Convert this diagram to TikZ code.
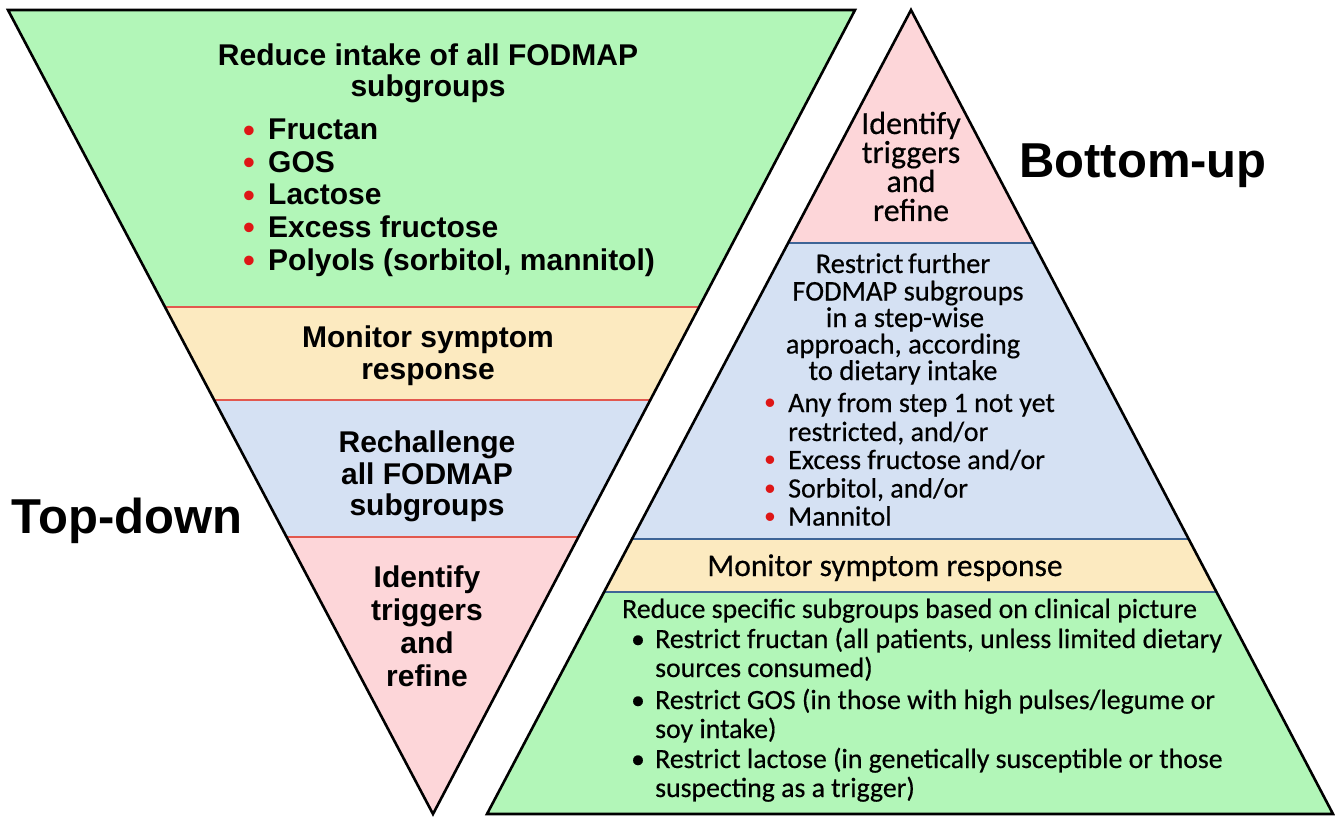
\documentclass[tikz,border=0pt]{standalone}
\usepackage{fontspec}
\setmainfont{Liberation Sans}
\newfontfamily\calfont[FakeBold=0.45]{Carlito}
\definecolor{bandgreen}{RGB}{178,246,184}
\definecolor{bandyellow}{RGB}{252,234,192}
\definecolor{bandblue}{RGB}{213,225,243}
\definecolor{bandpink}{RGB}{253,214,217}
\definecolor{dotred}{RGB}{222,22,22}
\definecolor{sepred}{RGB}{226,88,78}
\definecolor{sepblue}{RGB}{62,100,150}
\begin{document}
\begin{tikzpicture}[x=1pt,y=-1pt,
  outline/.style={draw=black,line width=2.6pt,line join=miter},
  sepL/.style={draw=sepred,line width=1.6pt},
  sepR/.style={draw=sepblue,line width=2pt},
  ltxt/.style={font=\bfseries\fontsize{30}{33}\selectfont,anchor=base,inner sep=0pt},
  litem/.style={font=\bfseries\fontsize{30}{33}\selectfont,anchor=base west,inner sep=0pt},
  ldot/.style={font=\fontsize{35}{35}\selectfont,text=dotred,anchor=base,inner sep=0pt},
  bigtxt/.style={font=\bfseries\fontsize{49}{49}\selectfont,anchor=base,inner sep=0pt},
  rtxt/.style={font=\calfont\fontsize{28.5}{28.5}\selectfont,anchor=base,inner sep=0pt},
  ptxt/.style={font=\calfont\fontsize{32}{32}\selectfont,anchor=base,inner sep=0pt},
  ritem/.style={font=\calfont\fontsize{28}{28}\selectfont,anchor=base west,inner sep=0pt},
  rdot/.style={font=\fontsize{31}{31}\selectfont,text=dotred,anchor=base,inner sep=0pt},
  gtxt/.style={font=\calfont\fontsize{27.8}{27.8}\selectfont,anchor=base west,inner sep=0pt},
  gdot/.style={font=\calfont\fontsize{27.5}{27.5}\selectfont,anchor=base,inner sep=0pt}]
\useasboundingbox (0,0) rectangle (1335,818);
% ---------- left (inverted) triangle ----------
\coordinate (LA) at (8,10);
\coordinate (LB) at (855,10);
\coordinate (LC) at (433,814);
\begin{scope}
  \clip (LA) -- (LB) -- (LC) -- cycle;
  \fill[bandgreen]  (0,0)   rectangle (900,307);
  \fill[bandyellow] (0,307) rectangle (900,400);
  \fill[bandblue]   (0,400) rectangle (900,537);
  \fill[bandpink]   (0,537) rectangle (900,818);
  \draw[sepL] (0,307) -- (900,307);
  \draw[sepL] (0,400) -- (900,400);
  \draw[sepL] (0,537) -- (900,537);
\end{scope}
\draw[outline] (LA) -- (LB) -- (LC) -- cycle;
% ---------- right triangle ----------
\coordinate (RA) at (911,10);
\coordinate (RB) at (1333,814);
\coordinate (RC) at (487,814);
\begin{scope}
  \clip (RA) -- (RB) -- (RC) -- cycle;
  \fill[bandpink]   (450,0)   rectangle (1335,243);
  \fill[bandblue]   (450,243) rectangle (1335,539);
  \fill[bandyellow] (450,539) rectangle (1335,592);
  \fill[bandgreen]  (450,592) rectangle (1335,818);
  \draw[sepR] (450,243) -- (1335,243);
  \draw[sepR] (450,539) -- (1335,539);
  \draw[sepR] (450,592) -- (1335,592);
\end{scope}
\draw[outline] (RA) -- (RB) -- (RC) -- cycle;
% ---------- side labels ----------
\node[bigtxt] (topdown) at (127,533) {Top-down};
\node[bigtxt] (bottomup) at (1143,178) {Bottom-up};
% ---------- left texts ----------
\node[ltxt] (l1a) at (428,66) {Reduce intake of all FODMAP};
\node[ltxt] (l1b) at (428,97) {subgroups};
\node[ldot] (d1) at (249,142.5) {•};
\node[litem] (i1) at (268,140) {Fructan};
\node[ldot] (d2) at (249,175) {•};
\node[litem] (i2) at (268,172.5) {GOS};
\node[ldot] (d3) at (249,207.5) {•};
\node[litem] (i3) at (268,205) {Lactose};
\node[ldot] (d4) at (249,240) {•};
\node[litem] (i4) at (268,237.5) {Excess fructose};
\node[ldot] (d5) at (249,272.5) {•};
\node[litem] (i5) at (268,270) {Polyols (sorbitol, mannitol)};
\node[ltxt] (l2a) at (428,347) {Monitor symptom};
\node[ltxt] (l2b) at (428,379) {response};
\node[ltxt] (l3a) at (427,452) {Rechallenge};
\node[ltxt] (l3b) at (427,484) {all FODMAP};
\node[ltxt] (l3c) at (427,515) {subgroups};
\node[ltxt] (l4a) at (427,587) {Identify};
\node[ltxt] (l4b) at (427,620) {triggers};
\node[ltxt] (l4c) at (427,653) {and};
\node[ltxt] (l4d) at (427,686) {refine};
% ---------- right texts ----------
\node[ptxt] (r1a) at (911,134) {Identify};
\node[ptxt] (r1b) at (911,163) {triggers};
\node[ptxt] (r1c) at (911,192) {and};
\node[ptxt] (r1d) at (911,221) {refine};
\node[rtxt] (r2a) at (903,273) {Restrict\,further};
\node[rtxt] (r2b) at (908,300.5) {FODMAP subgroups};
\node[rtxt] (r2c) at (905,327) {in a step-wise};
\node[rtxt] (r2d) at (903,353.5) {approach, according};
\node[rtxt] (r2e) at (903,380) {to dietary intake};
\node[rdot] (rd1) at (770,413.5) {•};
\node[ritem] (ri1) at (788,412) {Any from step 1 not yet};
\node[ritem] (ri1b) at (788,441) {restricted, and/or};
\node[rdot] (rd2) at (770,470.5) {•};
\node[ritem] (ri2) at (788,469) {Excess fructose and/or};
\node[rdot] (rd3) at (770,499) {•};
\node[ritem] (ri3) at (788,497.5) {Sorbitol, and/or};
\node[rdot] (rd4) at (770,527) {•};
\node[ritem] (ri4) at (788,525.5) {Mannitol};
\node[font=\calfont\fontsize{31.5}{31.5}\selectfont,anchor=base,inner sep=0pt] (r3) at (885,576) {Monitor symptom response};
\node[gtxt] (g0) at (622,618) {Reduce specific subgroups based on clinical picture};
\node[gdot] (gd1) at (638,648) {•};
\node[gtxt] (g1a) at (655,648) {Restrict fructan (all patients, unless limited dietary};
\node[gtxt] (g1b) at (655,677) {sources consumed)};
\node[gdot] (gd2) at (638,709) {•};
\node[gtxt] (g2a) at (655,709) {Restrict GOS (in those with high pulses/legume or};
\node[gtxt] (g2b) at (655,738) {soy intake)};
\node[gdot] (gd3) at (638,768) {•};
\node[gtxt] (g3a) at (655,768) {Restrict lactose (in genetically susceptible or those};
\node[gtxt] (g3b) at (655,797) {suspecting as a trigger)};
\end{tikzpicture}
\end{document}
